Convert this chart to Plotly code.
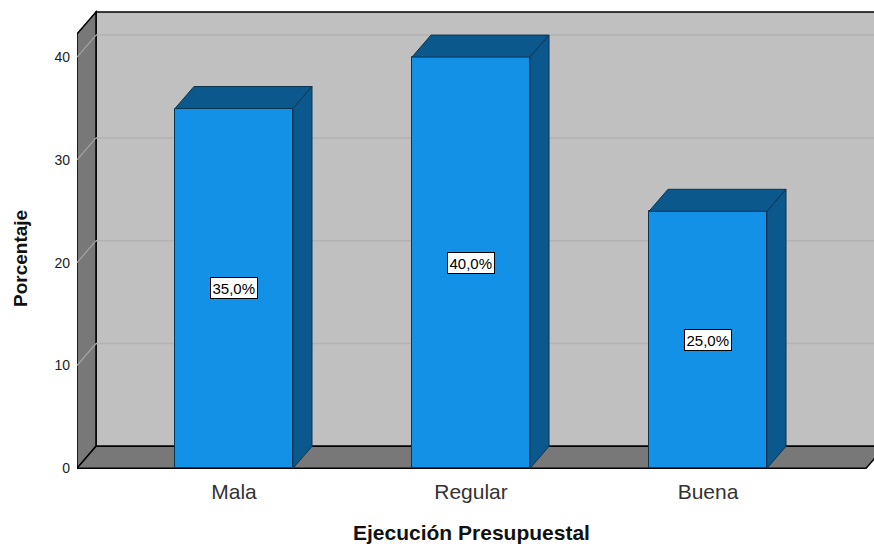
import plotly.graph_objects as go

# Ejecución Presupuestal — percentage by rating
categories = ["Mala", "Regular", "Buena"]
percentages = [35.0, 40.0, 25.0]
y_ticks = [0, 10, 20, 30, 40]

# 3D box geometry (in axis units)
bar_width = 0.498
depth_x = 0.0802          # horizontal offset of the back plane
depth_y = 2.14            # vertical offset of the back plane
x_left = -0.6624          # front-left corner of the floor
x_right = 2.667           # front-right corner of the floor
wall_top = 42.25          # height of the left wall's front edge

front_blue = "#1391E6"
dark_blue = "#0A588C"
edge_blue = "#0C3552"
back_wall = "#C0C0C0"
side_wall = "#787878"

xs = list(range(len(categories)))

fig = go.Figure()

shapes = []
# back wall
shapes.append(dict(type="rect", xref="x", yref="y", layer="below",
                   x0=x_left + depth_x, x1=x_right + depth_x + 0.3,
                   y0=depth_y, y1=wall_top + depth_y,
                   fillcolor=back_wall, line=dict(color="black", width=1.5)))
# left wall
shapes.append(dict(type="path", xref="x", yref="y", layer="below",
                   path=(f"M {x_left},0 L {x_left},{wall_top} "
                         f"L {x_left + depth_x},{wall_top + depth_y} "
                         f"L {x_left + depth_x},{depth_y} Z"),
                   fillcolor=side_wall, line=dict(color="black", width=1.5)))
# gridlines on the back wall and the left wall
for v in y_ticks[1:]:
    shapes.append(dict(type="line", xref="x", yref="y", layer="below",
                       x0=x_left + depth_x, x1=x_right + depth_x + 0.3,
                       y0=v + depth_y, y1=v + depth_y,
                       line=dict(color="#B2B2B2", width=1.5)))
    shapes.append(dict(type="line", xref="x", yref="y", layer="below",
                       x0=x_left, x1=x_left + depth_x,
                       y0=v, y1=v + depth_y,
                       line=dict(color="#A4A4A4", width=1.2)))
# floor
shapes.append(dict(type="path", xref="x", yref="y", layer="below",
                   path=(f"M {x_left},0 L {x_left + depth_x},{depth_y} "
                         f"L {x_right + depth_x},{depth_y} L {x_right},0 Z"),
                   fillcolor=side_wall, line=dict(color="black", width=1.5)))

# front faces of the bars
fig.add_trace(go.Bar(
    x=xs, y=percentages, width=bar_width,
    marker=dict(color=front_blue, line=dict(color=edge_blue, width=1)),
    hoverinfo="skip", showlegend=False,
))

# top and side faces of each bar
for c, v in zip(xs, percentages):
    l = c - bar_width / 2
    r = c + bar_width / 2
    fig.add_trace(go.Scatter(
        x=[l, l + depth_x, r + depth_x, r, l],
        y=[v, v + depth_y, v + depth_y, v, v],
        mode="lines", fill="toself", fillcolor=dark_blue,
        line=dict(color=edge_blue, width=1),
        hoverinfo="skip", showlegend=False,
    ))
    fig.add_trace(go.Scatter(
        x=[r, r, r + depth_x, r + depth_x, r],
        y=[0, v, v + depth_y, depth_y, 0],
        mode="lines", fill="toself", fillcolor=dark_blue,
        line=dict(color=edge_blue, width=1),
        hoverinfo="skip", showlegend=False,
    ))

annotations = []
for c, v in zip(xs, percentages):
    annotations.append(dict(
        x=c, y=v / 2, xref="x", yref="y", showarrow=False,
        text=f"{v:.1f}".replace(".", ",") + "%",
        font=dict(family="Liberation Sans, Arial", size=15, color="black"),
        bgcolor="white", bordercolor="black", borderwidth=1, borderpad=1.5,
    ))

# axis titles
annotations.append(dict(
    x=471, y=532, showarrow=False,
    text="<b>Ejecución Presupuestal</b>",
    font=dict(family="Liberation Sans, Arial", size=21, color="#111"),
))
annotations.append(dict(
    x=20, y=258, showarrow=False, textangle=-90,
    text="<b>Porcentaje</b>",
    font=dict(family="Liberation Sans, Arial", size=19, color="#111"),
))

W, H = 874, 546
mt, mb, ml, mr = 10, 76, 77, 0
plot_h = H - mt - mb
px_per_unit = 10.28
zero_px = 468.3
y_lo = -(mt + plot_h - zero_px) / px_per_unit
y_hi = (zero_px - mt) / px_per_unit

# convert the pixel-placed titles to paper coordinates
for a in annotations[-2:]:
    a["xref"] = "paper"
    a["yref"] = "paper"
    a["x"] = (a["x"] - ml) / (W - ml - mr)
    a["y"] = (H - mb - a["y"]) / plot_h
    a["xanchor"] = "center"
    a["yanchor"] = "middle"

fig.update_layout(
    width=W, height=H,
    margin=dict(l=ml, r=mr, t=mt, b=mb),
    paper_bgcolor="white", plot_bgcolor="white",
    shapes=shapes, annotations=annotations,
    bargap=0,
    xaxis=dict(
        range=[x_left, (W - 234) / 237], tickvals=xs, ticktext=categories,
        showgrid=False, zeroline=False, showline=False, ticks="",
        tickfont=dict(family="Liberation Sans, Arial", size=21, color="#333"),
        ticklabelstandoff=7, fixedrange=True,
    ),
    yaxis=dict(
        range=[y_lo, y_hi], tickvals=y_ticks,
        showgrid=False, zeroline=False, showline=False, ticks="",
        tickfont=dict(family="Liberation Sans, Arial", size=14, color="#222"),
        ticklabelstandoff=6, fixedrange=True,
    ),
)

fig.write_html("out.html", config={"displayModeBar": False})
